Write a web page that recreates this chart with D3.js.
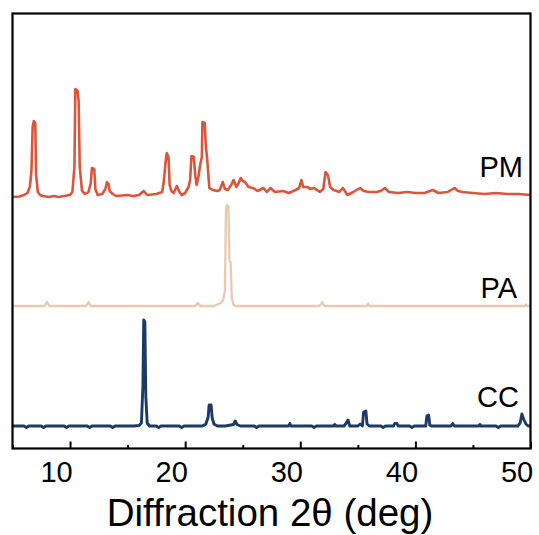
<!DOCTYPE html>
<html>
<head>
<meta charset="utf-8">
<script src="https://cdn.jsdelivr.net/npm/d3@7"></script>
<style>
  html, body { margin: 0; padding: 0; background: #fff; }
  svg text { font-family: "Liberation Sans", Arial, sans-serif; fill: #000; }
</style>
</head>
<body>
<svg id="chart"></svg>
<script>
// XRD patterns, [2theta (deg), intensity above own baseline (a.u.)]
const ccPattern = [
  [5.0, 0], [6.0, 0], [6.2, -1.5], [6.4, 0], [7.5, 0], [7.7, -1.5], [7.9, 0], [9.5, 0], [9.7, -1.5], [9.9, 0],
  [11.5, 0], [11.7, -1.5], [11.9, 0], [13.5, 0], [13.7, -1.5], [13.9, 0], [15.5, 0], [16.0, 0.5], [16.2, 3],
  [16.33, 40], [16.4, 106], [16.5, 104], [16.58, 30], [16.7, 3], [16.9, 0], [17.5, 0], [17.7, -1.5], [17.9, 0],
  [19.5, 0], [19.7, -1.5], [19.9, 0], [21.5, 0], [21.8, 2], [22.0, 9], [22.08, 21], [22.25, 21], [22.35, 8],
  [22.5, 2], [22.8, 0], [23.5, 0], [24.2, 1.5], [24.35, 5], [24.5, 1.5], [24.8, 0], [26.0, 0], [26.2, -1.5],
  [26.4, 0], [29.0, 0], [29.1, 2.5], [29.2, 0], [31.0, 0], [31.2, -1.5], [31.4, 0], [32.9, 0], [33.0, 1.5],
  [33.1, 0], [33.8, 0], [34.0, 3], [34.15, 6], [34.3, 0], [35.0, 0], [35.2, 2], [35.4, 0], [35.5, 14],
  [35.7, 15], [35.8, 2], [36.0, 0], [37.0, 0], [37.2, -1.5], [37.4, 0], [38.1, 0], [38.2, 2.5], [38.4, 2.5],
  [38.5, 0], [39.5, 0], [39.7, -1.5], [39.9, 0], [40.9, 0], [41.0, 10], [41.15, 11], [41.25, 1], [41.4, 0],
  [43.1, 0], [43.25, 2.5], [43.4, 0], [45.5, 0], [45.6, 1.5], [45.7, 0], [47.0, 0], [47.2, -1.5], [47.4, 0],
  [48.9, 0], [49.1, 3], [49.25, 12], [49.4, 7], [49.6, 2], [49.8, 0], [50.0, 0]
];

const paPattern = [
  [5.0, 0], [7.8, 0], [8.0, 4], [8.2, 0], [11.4, 0], [11.6, 4], [11.8, 0], [20.9, 0], [21.1, 3], [21.3, 0],
  [22.5, 0], [22.8, 1.5], [23.1, 3], [23.3, 6], [23.45, 15], [23.55, 98], [23.65, 101], [23.75, 100],
  [23.85, 45], [23.95, 44], [24.05, 8], [24.2, 1], [24.4, 0], [31.7, 0], [31.9, 4], [32.1, 0], [35.8, 0],
  [35.9, 2.5], [36.0, 0], [49.5, 0], [49.6, 1.5], [49.7, 0], [50.0, 0]
];

const pmPattern = [
  [5.0, 0], [5.6, 0.5], [6.0, 2], [6.3, 4], [6.5, 10], [6.6, 20], [6.65, 28], [6.75, 70], [6.85, 76],
  [6.98, 74], [7.05, 22], [7.2, 5], [7.4, 2], [7.6, 1], [8.2, 0], [8.6, 1], [9.0, 0], [9.5, 1], [10.0, 2],
  [10.2, 5], [10.38, 30], [10.46, 108], [10.66, 106], [10.75, 95], [10.84, 30], [11.04, 6], [11.3, 3],
  [11.6, 5], [11.8, 14], [11.9, 29], [12.1, 28], [12.2, 8], [12.4, 2], [12.8, 3], [13.07, 8], [13.2, 15],
  [13.35, 13], [13.44, 6], [13.7, 3], [14.0, 1], [15.0, 2], [15.5, 1], [16.0, 2], [16.4, 6], [16.7, 2],
  [17.5, 3], [18.0, 5], [18.15, 16], [18.3, 35], [18.4, 44], [18.55, 40], [18.65, 12], [18.8, 6], [19.0, 4],
  [19.28, 11], [19.5, 5], [19.7, 2], [20.0, 4], [20.3, 10], [20.43, 17], [20.55, 41], [20.75, 40],
  [20.87, 22], [21.0, 12], [21.15, 20], [21.3, 32], [21.45, 40], [21.5, 75], [21.7, 74], [21.8, 50],
  [21.9, 40], [22.1, 9], [22.4, 7], [22.8, 6], [23.0, 7], [23.27, 15], [23.45, 8], [23.7, 7], [24.0, 12],
  [24.2, 17], [24.45, 10], [24.65, 14], [24.83, 19], [25.0, 16], [25.2, 15], [25.5, 10], [25.9, 9],
  [26.3, 6], [26.8, 9], [27.1, 5], [27.4, 9], [27.8, 5], [28.5, 6], [29.0, 4], [29.6, 7], [29.9, 9],
  [30.1, 17], [30.25, 10], [30.6, 10], [30.9, 8], [31.2, 9], [31.7, 5], [32.0, 8], [32.2, 25], [32.4, 22],
  [32.6, 10], [32.9, 7], [33.15, 6], [33.4, 5], [33.7, 9], [34.1, 2], [34.6, 5], [35.2, 9], [35.5, 6],
  [36.0, 5], [36.6, 5], [37.0, 6], [37.35, 9], [37.7, 5], [38.5, 4], [39.3, 5], [40.0, 4], [40.8, 4],
  [41.5, 7], [42.0, 4], [42.8, 5], [43.4, 9], [43.7, 6], [44.1, 5], [45.0, 4], [46.0, 3], [47.0, 4],
  [48.0, 3], [49.0, 3], [50.0, 2]
];

const seriesNames = ["PM", "PA", "CC"];
const seriesData = [pmPattern, paPattern, ccPattern];
const seriesOffsets = [251.5, 142.5, 22.5];
const seriesColors = ["#dc553a", "#e6cbb0", "#1b3a66"];
const seriesWidths = [2.6, 2.3, 2.9];

const xMajorTicks = [10, 20, 30, 40, 50];
const xMinorTicks = [5, 15, 25, 35, 45];
const xTitle = "Diffraction 2\u03b8 (deg)";

const W = 539, H = 535;
const margin = { top: 13.5, right: 8.5, bottom: 86.5, left: 12.5 };
const width = W - margin.left - margin.right;
const height = H - margin.top - margin.bottom;

const svg = d3.select("#chart")
  .attr("width", W)
  .attr("height", H);

const g = svg.append("g")
  .attr("transform", "translate(" + margin.left + "," + margin.top + ")");

const x = d3.scaleLinear().domain([5, 50]).range([0, width]);
const y = d3.scaleLinear().domain([0, height]).range([height, 0]);

// patterns
const line = d3.line()
  .x(d => x(d[0]))
  .y(d => y(d[1]));

seriesData.forEach((pts, i) => {
  const shifted = pts.map(p => [p[0], p[1] + seriesOffsets[i]]);
  g.append("path")
    .datum(shifted)
    .attr("fill", "none")
    .attr("stroke", seriesColors[i])
    .attr("stroke-width", seriesWidths[i])
    .attr("stroke-linejoin", "round")
    .attr("d", line);
});

// series labels
const labelPos = [[510.5, 163.5], [504.5, 284.5], [506.5, 393.5]];
seriesNames.forEach((name, i) => {
  g.append("text")
    .attr("x", labelPos[i][0])
    .attr("y", labelPos[i][1])
    .attr("text-anchor", "end")
    .style("font-size", "29px")
    .text(name);
});

// x axis, ticks pointing inward
const xAxis = g.append("g")
  .attr("transform", "translate(0," + height + ")")
  .call(d3.axisBottom(x).tickValues(xMajorTicks).tickSizeInner(-7).tickSizeOuter(0).tickPadding(12));
xAxis.select(".domain").remove();
xAxis.selectAll(".tick line").attr("stroke", "#000").attr("stroke-width", 2);
xAxis.selectAll(".tick text")
  .attr("dx", -14)
  .attr("y", 33)
  .attr("dy", 0)
  .style("font-size", "29px");

const xMinor = g.append("g")
  .attr("transform", "translate(0," + height + ")")
  .call(d3.axisBottom(x).tickValues(xMinorTicks).tickSizeInner(-3.5).tickSizeOuter(0).tickFormat(""));
xMinor.select(".domain").remove();
xMinor.selectAll(".tick line").attr("stroke", "#000").attr("stroke-width", 2);

// frame
g.append("rect")
  .attr("x", 0)
  .attr("y", 0)
  .attr("width", width)
  .attr("height", height)
  .attr("fill", "none")
  .attr("stroke", "#000")
  .attr("stroke-width", 2.2);

// axis title
g.append("text")
  .attr("x", 270 - margin.left)
  .attr("y", 526 - margin.top)
  .attr("text-anchor", "middle")
  .style("font-size", "38.5px")
  .text(xTitle);
</script>
</body>
</html>
